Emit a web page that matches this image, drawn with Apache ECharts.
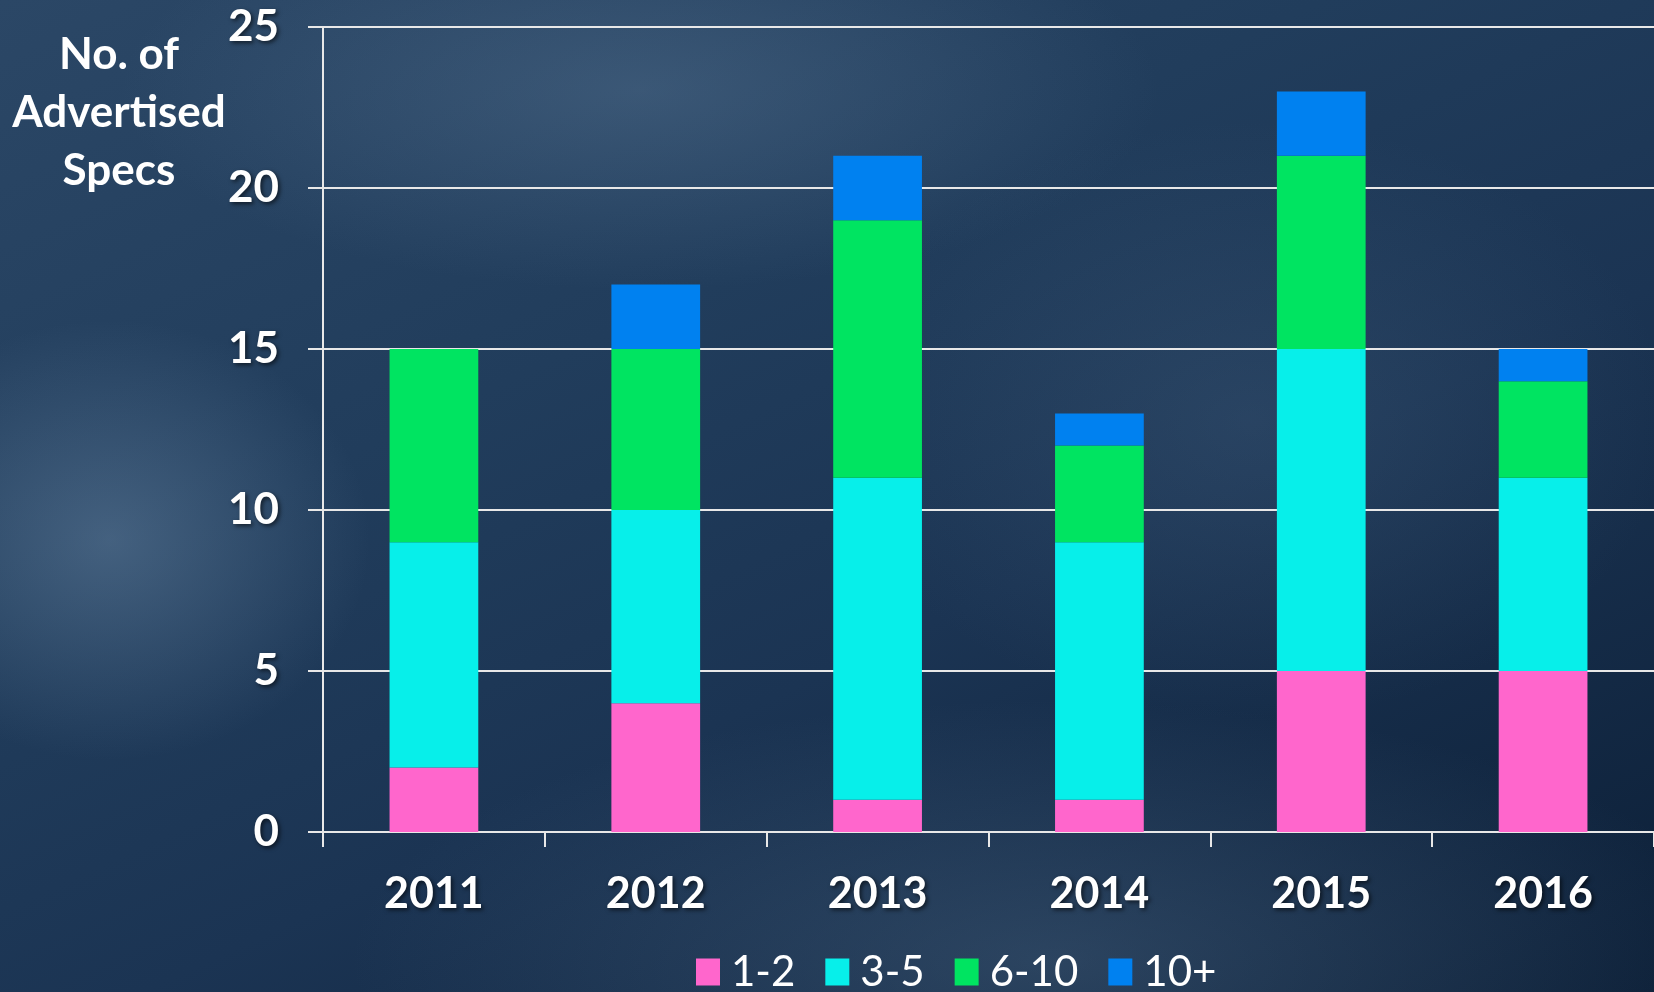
<!DOCTYPE html>
<html>
<head>
<meta charset="utf-8">
<script src="https://cdn.jsdelivr.net/npm/echarts@6/dist/echarts.min.js"></script>
<style>
  html, body { margin: 0; padding: 0; }
  #chart {
    width: 1654px;
    height: 992px;
    background:
      radial-gradient(ellipse 260px 220px at 110px 540px, rgba(110,140,170,0.45), rgba(0,0,0,0)),
      radial-gradient(ellipse 520px 200px at 640px 90px, rgba(100,130,160,0.35), rgba(0,0,0,0)),
      radial-gradient(ellipse 700px 260px at 1050px 960px, rgba(90,120,150,0.35), rgba(0,0,0,0)),
      radial-gradient(ellipse 420px 300px at 1250px 420px, rgba(80,110,140,0.25), rgba(0,0,0,0)),
      linear-gradient(155deg, #2b4766 0%, #213d5c 35%, #1b3453 60%, #0c1f37 100%);
  }
</style>
</head>
<body>
<div id="chart"></div>
<script>
// categories and stacked values
const years = ['2011', '2012', '2013', '2014', '2015', '2016'];
const s1to2 = [2, 4, 1, 1, 5, 5];
const s3to5 = [7, 6, 10, 8, 10, 6];
const s6to10 = [6, 5, 8, 3, 6, 3];
const s10plus = [0, 2, 2, 1, 2, 1];

const chart = echarts.init(document.getElementById('chart'));

const shadow = {
  textShadowColor: 'rgba(0,0,0,0.6)',
  textShadowBlur: 4,
  textShadowOffsetX: 2,
  textShadowOffsetY: 2
};

function labelFont(size) {
  return Object.assign({
    color: '#ffffff',
    fontFamily: 'Lato',
    fontWeight: 'bold',
    fontSize: size
  }, shadow);
}

function bar(name, data, color) {
  return {
    name: name,
    type: 'bar',
    stack: 'total',
    barWidth: '40%',
    itemStyle: { color: color },
    data: data
  };
}

chart.setOption({
  backgroundColor: 'transparent',
  animation: false,
  grid: { left: 323, right: 0, top: 27, bottom: 160 },
  graphic: [{
    type: 'text',
    style: {
      text: 'No. of\nAdvertised\nSpecs',
      x: 119,
      y: 26,
      align: 'center',
      verticalAlign: 'top',
      lineHeight: 58,
      fill: '#ffffff',
      font: 'bold 44px Lato',
      shadowColor: 'rgba(0,0,0,0.6)',
      shadowBlur: 4,
      shadowOffsetX: 2,
      shadowOffsetY: 2
    }
  }],
  legend: {
    left: 691,
    top: 946,
    itemWidth: 24,
    itemHeight: 27,
    itemGap: 30,
    icon: 'rect',
    textStyle: {
      color: '#ffffff',
      fontFamily: 'Lato',
      fontSize: 42,
      padding: [0, 0, 0, 6]
    },
    data: ['1-2', '3-5', '6-10', '10+']
  },
  xAxis: {
    type: 'category',
    data: years,
    axisLine: { lineStyle: { color: '#e8e8e8', width: 2 } },
    axisTick: { show: true, length: 15, lineStyle: { color: '#e8e8e8', width: 2 } },
    axisLabel: Object.assign({ margin: 41 }, labelFont(43))
  },
  yAxis: {
    type: 'value',
    min: 0,
    max: 25,
    interval: 5,
    axisLine: { show: true, lineStyle: { color: '#e8e8e8', width: 2 } },
    axisTick: { show: true, length: 15, lineStyle: { color: '#e8e8e8', width: 2 } },
    splitLine: { lineStyle: { color: '#e8e8e8', width: 2 } },
    axisLabel: Object.assign({ margin: 44 }, labelFont(44))
  },
  series: [
    bar('1-2', s1to2, '#ff66cc'),
    bar('3-5', s3to5, '#07efea'),
    bar('6-10', s6to10, '#00e461'),
    bar('10+', s10plus, '#0081f0')
  ]
});
</script>
</body>
</html>
